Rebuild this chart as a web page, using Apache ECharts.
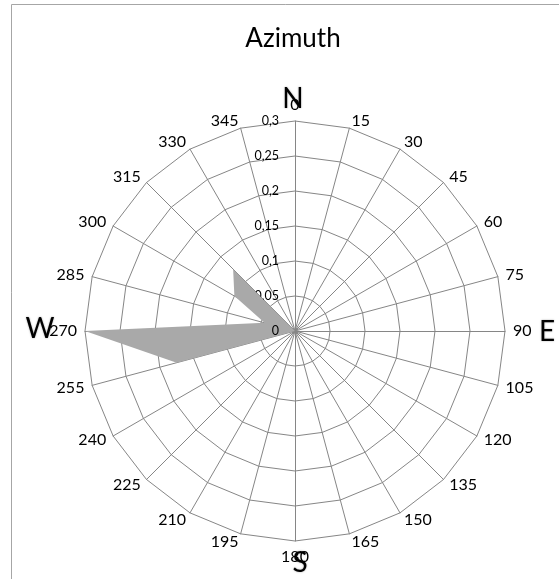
<!DOCTYPE html>
<html>
<head>
<meta charset="utf-8">
<script src="https://cdn.jsdelivr.net/npm/echarts@6/dist/echarts.min.js"></script>
<style>html,body{margin:0;padding:0;background:#fff;}#c{width:559px;height:579px;}</style>
</head>
<body>
<div id="c"></div>
<script>
// Azimuth categories (degrees)
var categories = [0,15,30,45,60,75,90,105,120,135,150,165,180,195,210,225,240,255,270,285,300,315,330,345];
// Values per azimuth
var values = [0,0,0,0,0,0,0,0,0,0,0,0,0,0,0,0,0,0.175,0.3,0.045,0.1,0.125,0,0];
// Radial axis
var radialMin = 0, radialMax = 0.3, radialSplits = 6;
var compass = [{t:'N',x:293,y:99},{t:'E',x:547,y:332},{t:'S',x:300,y:563},{t:'W',x:40,y:329}];

var CX = 295, CY = 331, R = 210;
function fmt(v) { return String(Math.round(v * 100) / 100).replace('.', ','); }

// ECharts radar places indicators counter-clockwise; reverse (keep 0 first) for clockwise azimuth
var order = [0];
for (var i = categories.length - 1; i >= 1; i--) order.push(i);

var indicators = order.map(function (idx, k) {
  var ind = { name: String(categories[idx]), min: radialMin, max: radialMax };
  if (k === 0) {
    ind.axisLabel = {
      show: true, showMinLabel: true, showMaxLabel: true, hideOverlap: false,
      color: '#000', fontSize: 12.5, fontFamily: 'Lato', margin: 16,
      formatter: fmt
    };
  }
  return ind;
});
var seriesValues = order.map(function (idx) { return values[idx]; });

var chart = echarts.init(document.getElementById('c'), null, {renderer: 'canvas'});
chart.setOption({
  animation: false,
  backgroundColor: '#fff',
  title: {
    text: 'Azimuth', left: 288, top: 21, textAlign: 'center',
    textStyle: { fontFamily: 'Lato', fontSize: 26, fontWeight: 'normal', color: '#000' }
  },
  radar: {
    center: [CX, CY], radius: R, startAngle: 90, splitNumber: radialSplits, shape: 'polygon',
    indicator: indicators,
    nameGap: 8,
    axisName: { color: '#000', fontSize: 16, fontFamily: 'Lato' },
    splitLine: { lineStyle: { color: '#868686', width: 1 } },
    axisLine: { lineStyle: { color: '#868686', width: 1 } },
    splitArea: { show: false },
    axisTick: { show: false },
    axisLabel: { show: false }
  },
  series: [{
    type: 'radar', symbol: 'none',
    lineStyle: { width: 0, color: '#a9a9a9' },
    areaStyle: { color: '#a9a9a9', opacity: 1 },
    data: [{ value: seriesValues }]
  }],
  graphic: [
    { type: 'rect', shape: { x: 11.5, y: 4.5, width: 700, height: 700 }, style: { fill: 'none', stroke: '#a6a6a6', lineWidth: 1 }, z: 100 },
    { type: 'text', x: CX - 16, y: CY, z: 100,
      style: { text: fmt(radialMin), fontFamily: 'Lato', fontSize: 12.5, fill: '#000', align: 'right', verticalAlign: 'middle' } }
  ].concat(compass.map(function (c) {
    return { type: 'text', x: c.x, y: c.y, z: 100,
      style: { text: c.t, fontFamily: 'Lato', fontSize: 28, fill: '#000', align: 'center', verticalAlign: 'middle',
        textShadowColor: 'rgba(0,0,0,0.35)', textShadowBlur: 2 } };
  }))
});
</script>
</body>
</html>
